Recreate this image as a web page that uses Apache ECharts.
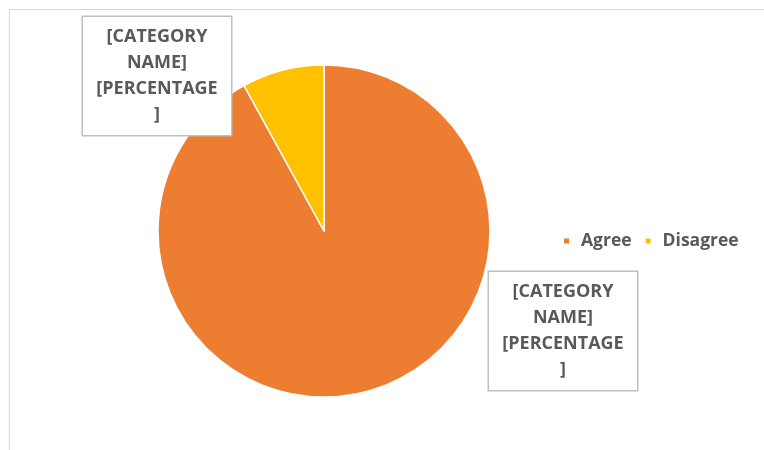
<!DOCTYPE html>
<html>
<head>
<meta charset="utf-8">
<script src="https://cdn.jsdelivr.net/npm/echarts@6/dist/echarts.min.js"></script>
<style>
  html, body { margin: 0; padding: 0; background: #ffffff; }
  #chart { width: 764px; height: 450px; }
</style>
</head>
<body>
<div id="chart"></div>
<script>
// Survey responses
const categories = ['Agree', 'Disagree'];
const values = [92, 8];
const sliceColors = ['#ED7D31', '#FFC000'];
// Data label placeholder text (one per slice)
const labelText = '[CATEGORY\nNAME]\n[PERCENTAGE\n]';

// Where each slice's label box sits
const labelSpots = [
  { x: 563, y: 331 },
  { x: 157, y: 76 }
];

const chart = echarts.init(document.getElementById('chart'), null, { renderer: 'canvas' });

chart.setOption({
  backgroundColor: '#ffffff',
  animation: false,
  graphic: [{
    type: 'rect',
    z: -1,
    shape: { x: 9.5, y: 9.5, width: 800, height: 500 },
    style: { fill: 'none', stroke: '#d9d9d9', lineWidth: 1 }
  }],
  legend: {
    left: 557,
    top: 227,
    orient: 'horizontal',
    icon: 'rect',
    itemWidth: 7,
    itemHeight: 7,
    itemGap: 12,
    textStyle: {
      color: '#595959', fontSize: 17.5, fontWeight: 'bold', fontFamily: 'Open Sans',
      padding: [0, 0, 0, 6]
    },
    data: categories
  },
  series: [{
    type: 'pie',
    center: [324, 231],
    radius: 166,
    startAngle: 90,
    clockwise: true,
    itemStyle: { borderColor: '#ffffff', borderWidth: 1.5 },
    labelLine: { show: false },
    label: {
      show: true,
      position: 'outside',
      formatter: labelText,
      color: '#595959',
      fontFamily: 'Open Sans',
      fontWeight: 'bold',
      fontSize: 18,
      lineHeight: 26,
      align: 'center',
      backgroundColor: '#ffffff',
      borderColor: '#bfbfbf',
      borderWidth: 1.5,
      width: 132,
      padding: [7, 8, 7, 8]
    },
    labelLayout: function (params) {
      const s = labelSpots[params.dataIndex];
      return { x: s.x, y: s.y, align: 'center', verticalAlign: 'middle' };
    },
    data: categories.map((name, i) => ({
      name: name,
      value: values[i],
      itemStyle: { color: sliceColors[i] }
    }))
  }]
});
</script>
</body>
</html>
